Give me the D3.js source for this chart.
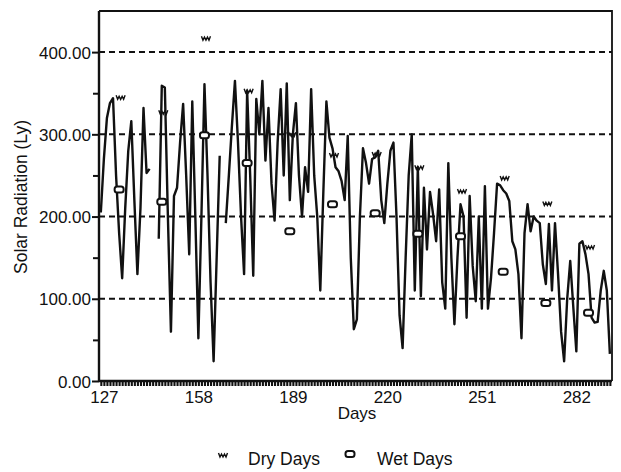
<!DOCTYPE html>
<html>
<head>
<meta charset="utf-8">
<script src="https://cdn.jsdelivr.net/npm/d3@7"></script>
<style>
  body { margin: 0; background: #fff; }
  svg { display: block; }
  text { font-family: "Liberation Sans", Arial, Helvetica, sans-serif; fill: #111; }
</style>
</head>
<body>
<svg id="chart" width="621" height="472"></svg>
<script>
// Daily solar radiation (Ly), one value per day starting at firstDay; null = no record
const firstDay = 126;
const radiation = [
  205, 270, 320, 338, 344, 250, 180, 125, 210, 280,
  316, 220, 130, 210, 332, 253, 258, null, null, 173,
  359, 357, 200, 60, 225, 235, 290, 337, 250, 154,
  340, 200, 52, 200, 361, 250, 120, 24, 150, 274,
  null, 192, 250, 310, 365, 290, 200, 130, 353, 250,
  128, 343, 300, 365, 268, 332, 240, 195, 290, 355,
  250, 362, 220, 300, 338, 250, 200, 260, 230, 355,
  250, 200, 110, 230, 340, 296, 283, 260, 255, 243,
  220, 298, 150, 63, 75, 200, 283, 265, 240, 270,
  272, 280, 220, 192, 240, 280, 290, 200, 80, 40,
  150, 250, 300, 110, 260, 103, 235, 160, 230, 203,
  170, 233, 120, 88, 265, 150, 69, 150, 215, 200,
  77, 225, 140, 97, 200, 88, 237, 88, 125, 180,
  240, 238, 232, 228, 219, 170, 160, 130, 52, 180,
  215, 182, 200, 195, 192, 142, 118, 191, 110, 192,
  130, 60, 24, 100, 146, 90, 36, 167, 170, 154,
  130, 77, 71, 72, 110, 134, 110, 33
];

// Period averages for dry and wet days
const periodDays = [132, 146, 160, 174, 188, 202, 216, 230, 244, 258, 272, 286];
const dryValues  = [345, 327, 417, 353, 300, 275, 276, 260, 231, 247, 216, 163];
const wetValues  = [233, 218, 299, 265, 182, 215, 204, 179, 176, 133, 95, 83];

const xTickDays = [127, 158, 189, 220, 251, 282];
const yTicks = [0, 100, 200, 300, 400];
const yMinorTicks = [50, 150, 250, 350];
const gridValues = [100, 200, 300, 400];

const svg = d3.select("#chart");
const plot = { left: 99, right: 612, top: 11, bottom: 381 };

const x = d3.scaleLinear().domain([125.4, 293.7]).range([plot.left, plot.right]);
const y = d3.scaleLinear().domain([0, 450]).range([plot.bottom, plot.top]);

const series = radiation.map((v, i) => ({ day: firstDay + i, v }));
const allDays = d3.range(firstDay, firstDay + radiation.length);

// dashed grid lines
svg.append("g")
  .selectAll("line")
  .data(gridValues)
  .join("line")
  .attr("x1", plot.left).attr("x2", plot.right)
  .attr("y1", d => y(d)).attr("y2", d => y(d))
  .attr("stroke", "#111").attr("stroke-width", 2)
  .attr("stroke-dasharray", "6,4");

// frame: top and right edges
svg.append("path")
  .attr("d", `M${plot.left},${plot.top}H${plot.right}V${plot.bottom}`)
  .attr("fill", "none").attr("stroke", "#111").attr("stroke-width", 1.8);

// y axis with labelled major ticks
const yAxis = svg.append("g")
  .attr("transform", `translate(${plot.left},0)`)
  .call(d3.axisLeft(y).tickValues(yTicks).tickSize(7).tickPadding(1)
    .tickFormat(d3.format(".2f")));
yAxis.select(".domain").attr("stroke", "#111").attr("stroke-width", 2.4)
  .attr("d", `M0,${plot.top}V${plot.bottom}`);
yAxis.selectAll(".tick line").attr("stroke", "#111").attr("stroke-width", 2);
yAxis.selectAll(".tick text").style("font-size", "17px").attr("dy", "0.36em");

// minor y ticks
svg.append("g")
  .attr("transform", `translate(${plot.left},0)`)
  .call(d3.axisLeft(y).tickValues(yMinorTicks).tickSize(6).tickFormat(""))
  .call(g => g.select(".domain").remove())
  .selectAll(".tick line").attr("stroke", "#111").attr("stroke-width", 2);

// x axis: one tick per day
const xDaily = svg.append("g")
  .attr("transform", `translate(0,${plot.bottom})`)
  .call(d3.axisBottom(x).tickValues(allDays).tickSize(5).tickFormat(""));
xDaily.select(".domain").attr("stroke", "#111").attr("stroke-width", 2.4)
  .attr("d", `M${plot.left},0H${plot.right}`);
xDaily.selectAll(".tick line").attr("stroke", "#111").attr("stroke-width", 2.1);

// x axis labels
const xLabels = svg.append("g")
  .attr("transform", `translate(0,${plot.bottom})`)
  .call(d3.axisBottom(x).tickValues(xTickDays).tickSize(0).tickPadding(10)
    .tickFormat(d3.format("d")));
xLabels.select(".domain").remove();
xLabels.selectAll(".tick text").style("font-size", "17px");

// axis titles
svg.append("text")
  .attr("x", 357).attr("y", 419)
  .attr("text-anchor", "middle")
  .style("font-size", "17px")
  .text("Days");

svg.append("text")
  .attr("transform", "translate(27,197) rotate(-90)")
  .attr("text-anchor", "middle")
  .style("font-size", "17.5px")
  .text("Solar Radiation (Ly)");

// daily radiation line
const line = d3.line()
  .defined(d => d.v != null)
  .x(d => x(d.day))
  .y(d => y(d.v));

svg.append("path")
  .datum(series)
  .attr("d", line)
  .attr("fill", "none")
  .attr("stroke", "#111")
  .attr("stroke-width", 2.4)
  .attr("stroke-linejoin", "round");

// marker shapes
const dryGlyph = "M-4.5,-2 L-3,2 L-1.5,-1 L0,2 L1.5,-1 L3,2 L4.5,-2";
function wetGlyph(sel) {
  sel.append("rect")
    .attr("x", -4.5).attr("y", -3).attr("width", 9).attr("height", 6)
    .attr("rx", 2.5).attr("ry", 2.5)
    .attr("fill", "#fff").attr("stroke", "#111").attr("stroke-width", 2);
}

const dryData = periodDays.map((d, i) => ({ day: d, v: dryValues[i] }));
const wetData = periodDays.map((d, i) => ({ day: d, v: wetValues[i] }));

svg.append("g").selectAll("path")
  .data(dryData)
  .join("path")
  .attr("transform", d => `translate(${x(d.day) + 1.5},${y(d.v)})`)
  .attr("d", dryGlyph)
  .attr("fill", "none").attr("stroke", "#111").attr("stroke-width", 1.4);

svg.append("g").selectAll("g")
  .data(wetData)
  .join("g")
  .attr("transform", d => `translate(${x(d.day)},${y(d.v)})`)
  .call(wetGlyph);

// legend
const legend = svg.append("g");
legend.append("path")
  .attr("transform", "translate(223,455)")
  .attr("d", dryGlyph)
  .attr("fill", "none").attr("stroke", "#111").attr("stroke-width", 1.4);
legend.append("text").attr("x", 248).attr("y", 465)
  .style("font-size", "17.5px").text("Dry Days");
legend.append("g").attr("transform", "translate(350,454)").call(wetGlyph);
legend.append("text").attr("x", 377).attr("y", 465)
  .style("font-size", "17.5px").text("Wet Days");
</script>
</body>
</html>
